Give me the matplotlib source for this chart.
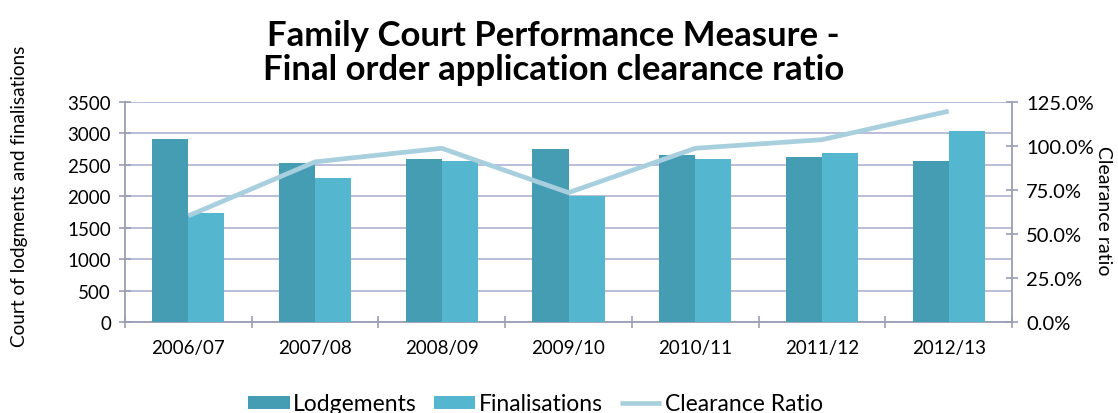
import matplotlib
matplotlib.use("Agg")
import matplotlib.pyplot as plt
import numpy as np
from matplotlib.ticker import FuncFormatter, FixedLocator

plt.rcParams['font.family'] = ['Lato', 'DejaVu Sans']

years = ["2006/07", "2007/08", "2008/09", "2009/10", "2010/11", "2011/12", "2012/13"]
lodgements = [2910, 2525, 2595, 2755, 2655, 2620, 2560]
finalisations = [1740, 2295, 2555, 2005, 2590, 2690, 3045]
clearance = [60.3, 91.0, 98.7, 73.5, 98.7, 103.6, 119.8]

c_lodg = "#459db3"
c_fin = "#55b6cf"
c_line = "#a8cfde"
c_grid = "#b3b7d6"
c_axis = "#9a9eb4"

fig = plt.figure(figsize=(11.18, 4.14), dpi=100)
ax = fig.add_axes([0.1118, 0.2198, 0.7934, 0.5314])
ax2 = ax.twinx()

x = np.arange(len(years))
w = 0.285
ax.bar(x - w/2, lodgements, w, color=c_lodg, label="Lodgements", zorder=3)
ax.bar(x + w/2, finalisations, w, color=c_fin, label="Finalisations", zorder=3)
ax2.plot(x, clearance, color=c_line, lw=3.4, label="Clearance Ratio", zorder=4, solid_capstyle='butt')

ax.set_xlim(-0.5, len(years) - 0.5)
ax.set_ylim(0, 3500)
ax2.set_ylim(0, 125)
ax.set_yticks(np.arange(0, 3501, 500))
ax2.set_yticks(np.arange(0, 125.1, 25))
ax2.yaxis.set_major_formatter(FuncFormatter(lambda v, p: f"{v:.1f}%"))

ax.set_xticks(x)
ax.set_xticklabels(years)
ax.xaxis.set_minor_locator(FixedLocator(np.arange(-0.5, len(years), 1.0)))
ax.tick_params(axis='x', which='major', length=0, pad=12, labelsize=13.5)
ax.tick_params(axis='x', which='minor', length=8, direction='inout', color=c_axis, width=1.2)
ax.tick_params(axis='y', length=8, direction='inout', color=c_axis, width=1.2, labelsize=13.5, pad=6)
ax2.tick_params(axis='y', length=8, direction='inout', color=c_axis, width=1.2, labelsize=14.5, pad=6)

ax.yaxis.grid(True, color=c_grid, lw=1.3, zorder=0)
ax.set_axisbelow(True)
for a in (ax, ax2):
    a.spines['top'].set_visible(False)
    a.spines['left'].set_color(c_axis)
    a.spines['bottom'].set_color(c_axis)
    a.spines['right'].set_color(c_axis)
    a.spines['left'].set_linewidth(1.3)
    a.spines['bottom'].set_linewidth(1.3)
    a.spines['right'].set_linewidth(1.3)
ax.spines['right'].set_visible(False)
ax2.spines['left'].set_visible(False)
ax2.spines['bottom'].set_visible(False)

fig.text(0.017, 0.527, "Court of lodgments and finalisations", rotation=90,
         ha='center', va='center', fontsize=13.7)
fig.text(0.987, 0.49, "Clearance ratio", rotation=270,
         ha='center', va='center', fontsize=14)

fig.text(0.495, 0.872, "Family Court Performance Measure -\nFinal order application clearance ratio",
         ha='center', va='center', fontsize=25, fontweight='bold', linespacing=1.05)

h1, l1 = ax.get_legend_handles_labels()
h2, l2 = ax2.get_legend_handles_labels()
fig.legend(h1 + h2, l1 + l2, loc='center', bbox_to_anchor=(0.479, 0.022), ncol=3,
           frameon=False, fontsize=16.5, handlelength=1.8, handleheight=0.5,
           handletextpad=0.15, columnspacing=0.75)

fig.savefig("out.png", dpi=100)
